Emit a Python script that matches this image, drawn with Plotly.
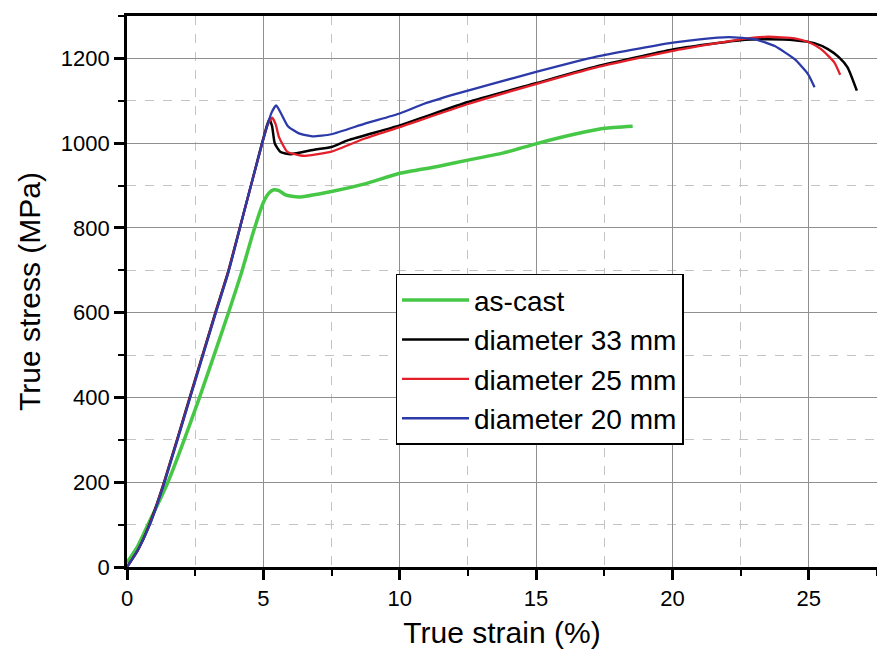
import plotly.graph_objects as go

# ---- data ----
series_names = ["as-cast", "diameter 33 mm", "diameter 25 mm", "diameter 20 mm"]

green_x = [0, 0.4, 0.77, 1.5, 2.66, 3.72, 4.2, 4.63, 5.0, 5.2, 5.38, 5.57, 5.81, 6.29, 7.5, 8.72, 10.0, 11.39, 12.5, 13.81, 15.02, 16.48, 17.51, 18.54]
green_y = [10, 50, 100, 200, 400, 600, 695, 790, 860, 882, 890, 888, 878, 873, 886, 904, 929, 945, 960, 977, 999, 1022, 1035, 1040]

black_x = [0, 0.4, 0.82, 1.36, 2.3, 3.24, 3.7, 4.3, 4.95, 5.1, 5.22, 5.32, 5.42, 5.63, 6.0, 6.9, 7.5, 8.11, 10.0, 12.5, 15.02, 17.21, 20.02, 22.5, 23.5, 24.48, 25.2, 25.7, 26.1, 26.42, 26.76]
black_y = [0, 40, 100, 200, 400, 600, 695, 840, 1000, 1035, 1057, 1040, 999, 979, 974, 985, 991, 1007, 1042, 1097, 1142, 1181, 1221, 1243, 1245, 1243, 1236, 1222, 1203, 1179, 1124]

red_x = [0, 0.4, 0.83, 1.37, 2.31, 3.25, 3.71, 4.3, 4.96, 5.15, 5.32, 5.45, 5.57, 5.87, 6.29, 6.54, 7.5, 8.72, 10.0, 12.54, 15.02, 17.21, 20.02, 22.5, 23.51, 24.48, 25.0, 25.45, 25.94, 26.15]
red_y = [0, 40, 100, 200, 400, 600, 695, 840, 1000, 1042, 1060, 1045, 1015, 980, 972, 970, 980, 1011, 1038, 1093, 1140, 1179, 1218, 1245, 1251, 1247, 1238, 1222, 1190, 1161]

blue_x = [0, 0.4, 0.84, 1.38, 2.32, 3.26, 3.72, 4.3, 4.96, 5.3, 5.47, 5.65, 5.9, 6.3, 6.8, 7.5, 8.72, 10.0, 10.9, 12.0, 13.39, 15.0, 17.21, 18.5, 20.02, 21.0, 22.06, 23.03, 23.75, 24.48, 24.97, 25.21]
blue_y = [0, 40, 100, 200, 400, 600, 695, 840, 1000, 1072, 1089, 1070, 1040, 1023, 1016, 1021, 1046, 1070, 1093, 1115, 1140, 1168, 1204, 1220, 1237, 1245, 1250, 1245, 1229, 1198, 1163, 1132]

colors = ["#46c846", "#000000", "#e3202a", "#2b3aa8"]
widths = [3.5, 2.5, 2.3, 2.3]

x_ticks = [0, 5, 10, 15, 20, 25]
y_ticks = [0, 200, 400, 600, 800, 1000, 1200]

FONT = "Liberation Sans, Arial, sans-serif"

fig = go.Figure()
for name, xs, ys, c, w in zip(series_names,
                              [green_x, black_x, red_x, blue_x],
                              [green_y, black_y, red_y, blue_y],
                              colors, widths):
    fig.add_trace(go.Scatter(x=xs, y=ys, mode="lines", name=name,
                             line=dict(color=c, width=w, shape="spline", smoothing=0.5)))

axis_common = dict(
    showline=True, linecolor="black", linewidth=2.7, mirror=True,
    ticks="outside", ticklen=10, tickwidth=2.5, tickcolor="black",
    showgrid=True, gridcolor="#909090", gridwidth=1.2,
    zeroline=False,
    tickfont=dict(family=FONT, size=22, color="black"),
)

fig.update_xaxes(
    range=[0, 27.5], tickvals=x_ticks,
    title=dict(text="True strain (%)", font=dict(family=FONT, size=30, color="black"), standoff=12),
    minor=dict(dtick=2.5, tick0=0, ticks="outside", ticklen=6, tickwidth=2, tickcolor="black",
               showgrid=True, gridcolor="#c4c4c4", gridwidth=1, griddash="dash"),
    **axis_common)
fig.update_yaxes(
    range=[0, 1300], tickvals=y_ticks,
    title=dict(text="True stress (MPa)", font=dict(family=FONT, size=30, color="black"), standoff=12),
    minor=dict(dtick=100, tick0=0, ticks="outside", ticklen=6, tickwidth=2, tickcolor="black",
               showgrid=True, gridcolor="#c4c4c4", gridwidth=1, griddash="dash"),
    **axis_common)

# page body has an 8px default margin, so the figure is sized/offset to compensate
fig.update_layout(
    width=877, height=651,
    margin=dict(l=119, r=5, t=5, b=92),
    plot_bgcolor="white", paper_bgcolor="white",
    font=dict(family=FONT, color="black"),
    legend=dict(x=0.358, y=0.532, xanchor="left", yanchor="top",
                bgcolor="white", bordercolor="black", borderwidth=1.5,
                font=dict(family=FONT, size=28, color="black"),
                itemwidth=67, tracegroupgap=0),
    showlegend=True,
)

fig.write_html("out.html")
